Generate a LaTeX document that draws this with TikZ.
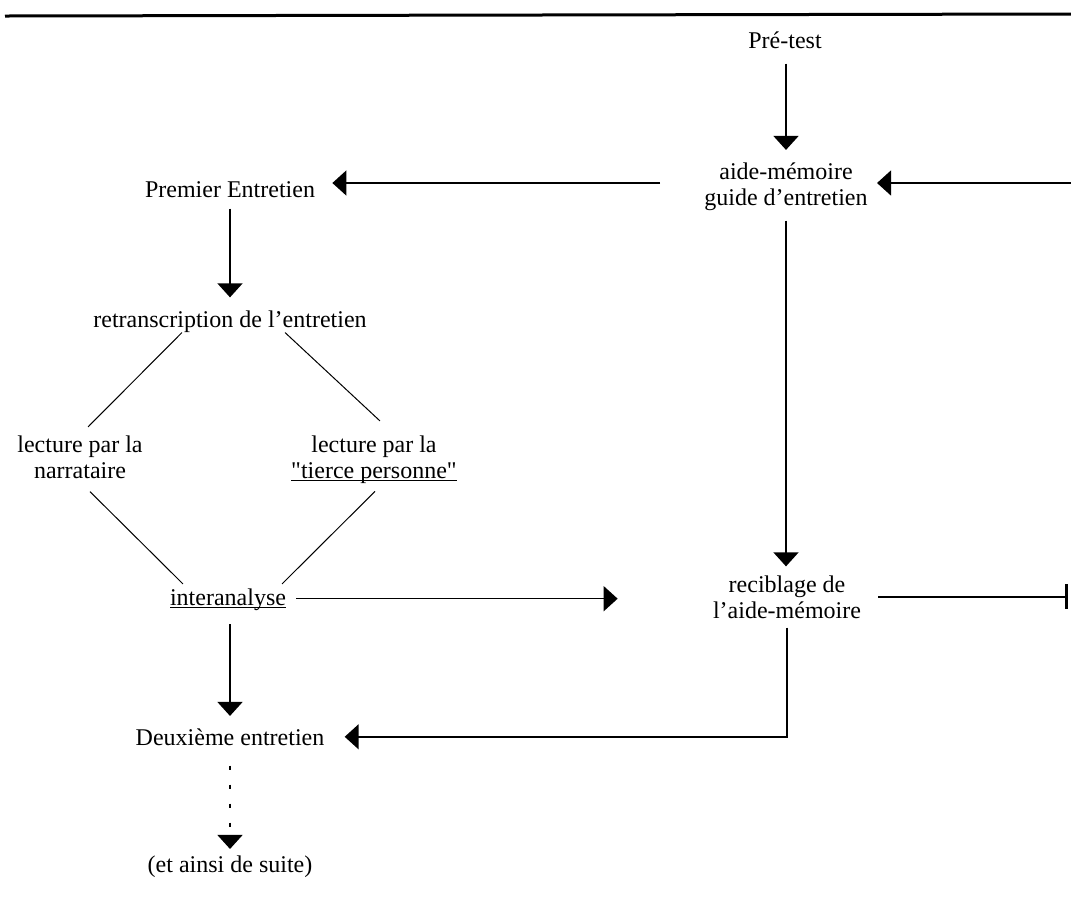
\documentclass[tikz,border=0pt]{standalone}
\usepackage{fontspec}
\setmainfont{Liberation Serif}
\usetikzlibrary{arrows.meta}
\newcommand\souligne[1]{\underline{\raisebox{0pt}[\height][0pt]{#1}}}
\tikzset{
  etape/.style={font=\fontsize{12}{13}\selectfont, inner sep=0pt, anchor=base},
  bloc/.style={etape, align=center},
  fleche/.style={line width=0.8pt, -{Triangle[width=12.5pt,length=7pt]}},
  butee/.style={line width=0.8pt, -{Bar[width=12.5pt,line width=1.5pt]}},
  lien/.style={line width=0.5pt},
}

\begin{document}
\begin{tikzpicture}[x=0.5pt, y=-0.5pt]
	\useasboundingbox (0,0) rectangle (1071,912);
	%%%%% START %%%%%
	
	\draw[line width=1.5pt] (5,16) -- (1071,14);
	
	% base of a two-line node = its last line
	\node[etape] (pretest) at (785,48) {Pré-test};
	\node[bloc] (aide) at (786,205) {aide-mémoire\\guide d’entretien};
	\node[etape] (premier) at (230,197) {Premier Entretien};
	\node[etape] (retrans) at (230,327) {retranscription de l’entretien};
	\node[bloc] (narr) at (80,478) {lecture par la\\narrataire};
	\node[bloc] (tierce) at (374,478) {lecture par la\\\souligne{\textquotedbl tierce personne\textquotedbl}};
	\node[etape] (inter) at (228,605) {\souligne{interanalyse}};
	\node[bloc] (recib) at (787,618) {reciblage de\\l’aide-mémoire};
	\node[etape] (deux) at (230,745) {Deuxième entretien};
	\node[etape] (suite) at (230,872) {(et ainsi de suite)};
	
	\coordinate (aideO) at (660,183);
	\coordinate (retour) at (1071,183);
	\coordinate (bout) at (1068,597);
	
	\draw[fleche, shorten <=7.5pt, shorten >=6pt] (pretest.south -| aide.north) -- (aide.north);
	\draw[fleche, shorten >=8.5pt] (aideO) -- (premier.east |- aideO);
	\draw[fleche, shorten >=4.5pt] (retour) -- (aide.east |- retour);
	\draw[fleche, shorten <=5.5pt, shorten >=6.3pt] (premier.south) -- (retrans.north);
	
	\draw[lien] ([xshift=-24pt]retrans.south) -- ([xshift=4pt,yshift=4pt]narr.north);
	\draw[lien] ([xshift=27.5pt]retrans.south) -- ([xshift=3pt,yshift=7pt]tierce.north);
	\draw[lien] ([xshift=5pt,yshift=-6.5pt]narr.south) -- ([xshift=-22.5pt,yshift=2pt]inter.north);
	\draw[lien] ([xshift=0.5pt,yshift=-4.5pt]tierce.south) -- ([xshift=27pt,yshift=2pt]inter.north);
	
	\draw[fleche, shorten <=5pt, shorten >=47.5pt] (inter.east) -- (inter.east -| recib.west);
	\draw[fleche, shorten <=5pt, shorten >=4.3pt] (aide.south) -- (aide.south |- recib.north);
	\draw[butee, shorten <=8.5pt] (recib.east) -- (recib.east -| bout);
	
	\draw[fleche, shorten <=7.5pt, shorten >=6pt] (inter.south -| deux.north) -- (deux.north);
	\draw[fleche, shorten <=4.5pt, shorten >=10pt] (recib.south) |- (deux.east);
	\draw[fleche, dash pattern=on 2pt off 7.5pt, shorten <=10pt, shorten >=3pt] (deux.south) -- (suite.north);
	
	%%%%% END %%%%%
\end{tikzpicture}
\end{document}
